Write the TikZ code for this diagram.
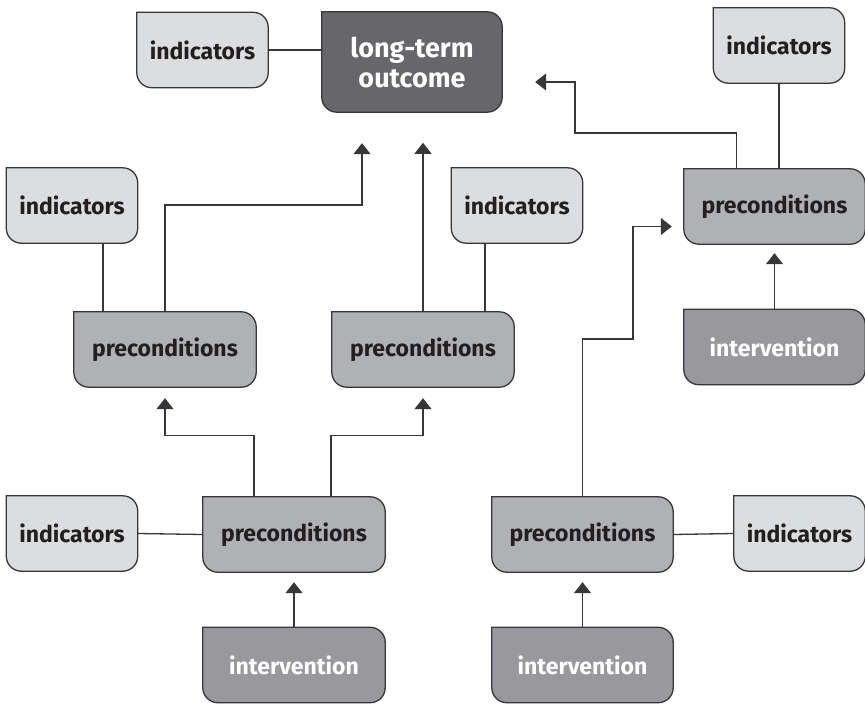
\documentclass[tikz,border=0pt]{standalone}
\usepackage{fontspec}
\setmainfont{Fira Sans}
\usetikzlibrary{arrows.meta}
\usetikzlibrary{backgrounds}
\definecolor{indfill}{RGB}{220,221,223}
\definecolor{prefill}{RGB}{176,177,180}
\definecolor{intfill}{RGB}{153,152,156}
\definecolor{outfill}{RGB}{103,102,106}
\definecolor{txtdark}{RGB}{35,31,32}
\definecolor{linegray}{RGB}{55,55,57}
\newcommand{\boxrad}{15pt}
\newcommand{\tabshape}[2]{%
  \draw[boxline,fill=#2] (#1.north west) -- ([xshift=-\boxrad]#1.north east)
    arc[start angle=90,end angle=0,radius=\boxrad]
    -- ([yshift=\boxrad]#1.south east)
    arc[start angle=0,end angle=-90,radius=\boxrad]
    -- ([xshift=\boxrad]#1.south west)
    arc[start angle=270,end angle=180,radius=\boxrad]
    -- cycle;}

\begin{document}
\begin{tikzpicture}[x=1pt,y=-1pt,
    boxline/.style={draw=linegray,line width=1.3pt},
    link/.style={draw=linegray,line width=1.3pt},
    arr/.style={link,-{Triangle[width=17pt,length=11pt]}}]
            \useasboundingbox (0,0) rectangle (865,704);

            \begin{scope}[every node/.style={inner sep=0pt,text=txtdark,minimum height=75pt,
                font=\bfseries\fontsize{23}{27}\selectfont}]
                \node[minimum width=131pt] (ind1) at (202.5,50) {indicators};
                \node[minimum width=131pt] (ind2) at (779,45.5) {indicators};
                \node[minimum width=131pt] (ind3) at (72,205.5) {indicators};
                \node[minimum width=131pt] (ind4) at (517,205.5) {indicators};
                \node[minimum width=131pt] (ind5) at (72,533.5) {indicators};
                \node[minimum width=131pt] (ind6) at (799.5,533.5) {indicators};
                \node[minimum width=181pt] (preR) at (774.5,206.5) {preconditions};
                \node[minimum width=182pt] (preL) at (165,349.5) {preconditions};
                \node[minimum width=182pt] (preM) at (423,349.5) {preconditions};
                \node[minimum width=182pt] (preBL) at (294,534.5) {preconditions};
                \node[minimum width=181pt] (preBR) at (582.5,534.5) {preconditions};
                \node[minimum width=181pt,text=white] (intR) at (774.5,347) {intervention};
                \node[minimum width=182pt,text=white] (intBL) at (294,665) {intervention};
                \node[minimum width=181pt,text=white] (intBR) at (582.5,665) {intervention};
                \node[minimum width=180pt,minimum height=100pt,text=white,align=center,
                    font=\bfseries\fontsize{27}{30}\selectfont] (outcome) at (412,62) {long-term\\outcome};
            \end{scope}

            \begin{scope}[on background layer]
                \foreach \n/\c in {ind1/indfill,ind2/indfill,ind3/indfill,ind4/indfill,ind5/indfill,ind6/indfill,
                    preR/prefill,preL/prefill,preM/prefill,preBL/prefill,preBR/prefill,
                    intR/intfill,intBL/intfill,intBR/intfill,outcome/outfill}
                    {\tabshape{\n}{\c}}
            \end{scope}

            \draw[link] (ind1.east) -- (ind1.east -| outcome.west);
            \draw[link] (ind2.south) -- (ind2.south |- preR.north);
            \draw[link] ([xshift=31pt]ind3.south) -- ++(0,69);
            \draw[link] ([xshift=-32pt]ind4.south) -- ++(0,69);
            \draw[link] (ind5.east) -- (preBL.west);
            \draw[link] (preBR.east) -- (ind6.west);

            \draw[arr] (preL.north) |- (362,205) -- ([xshift=-50pt,yshift=-31pt]outcome.south);
            \draw[arr] (preM.north) -- ++(0,-169);
            \draw[arr] ([xshift=-40pt]preBL.north) |- ([yshift=-48pt]preL.south) -- ([yshift=-11pt]preL.south);
            \draw[arr] ([xshift=37pt]preBL.north) |- ([yshift=-48pt]preM.south) -- ([yshift=-11pt]preM.south);
            \draw[arr] (intBL.north) -- ([yshift=-10pt]preBL.south);
            \draw[arr] (intBR.north) -- ([yshift=-10pt]preBR.south);
            \draw[arr] (preBR.north) |- (633,339) |- ([xshift=-12pt,yshift=-20pt]preR.west);
            \draw[arr] (intR.north) -- ([yshift=-9pt]preR.south);
            \draw[arr] ([xshift=-38pt]preR.north) |- (575,133) |- ([xshift=33pt,yshift=-20pt]outcome.east);
\end{tikzpicture}
\end{document}
